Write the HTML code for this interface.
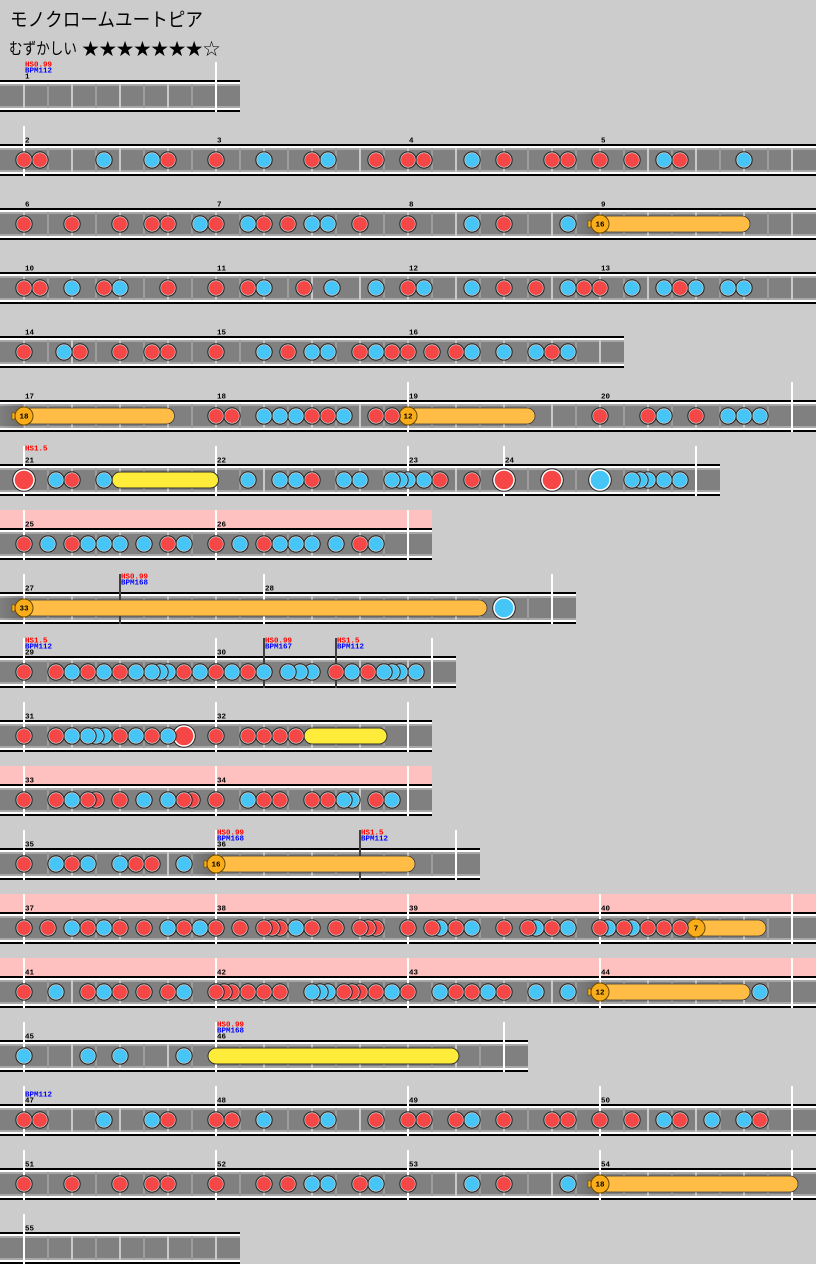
<!DOCTYPE html>
<html><head><meta charset="utf-8">
<style>
html,body{margin:0;padding:0;background:#cccccc}
svg{display:block}
.m{font:bold 7.5px "Liberation Mono",monospace;fill:#000}
.h{font:bold 7.5px "Liberation Mono",monospace;fill:#ff0000}
.p{font:bold 7.5px "Liberation Mono",monospace;fill:#0000ff}
.n{font:bold 7.5px "Liberation Mono",monospace;fill:#000;text-anchor:middle}
.bb{fill:#ffbd45;stroke:#3a3a3a;stroke-width:.8}
.yr{fill:#ffec3a;stroke:#333;stroke-width:1}
.t{fill:#fff}
.k{fill:#404040}
.pk{fill:#ffc0c0}
.st{font:21px "DejaVu Sans",sans-serif;text-anchor:middle;fill:#000}
</style></head>
<body>
<svg width="816" height="1264" viewBox="0 0 816 1264" xmlns="http://www.w3.org/2000/svg">
<defs>
<pattern id="g" patternUnits="userSpaceOnUse" x="23" y="0" width="48" height="1264"><rect width="2" height="1264" fill="#c8c8c8"/><rect x="24" width="2" height="1264" fill="#9c9c9c"/></pattern>
<linearGradient id="sh"><stop offset="0" stop-color="#000" stop-opacity="0"/><stop offset="1" stop-color="#000" stop-opacity=".2"/></linearGradient>
<g id="r"><circle r="8.7" fill="#262626"/><circle r="7.6" fill="#d0d0d0"/><circle r="6.9" fill="#f64646"/></g>
<g id="b"><circle r="8.7" fill="#262626"/><circle r="7.6" fill="#d0d0d0"/><circle r="6.9" fill="#46c6f6"/></g>
<g id="R"><circle r="11.8" fill="#262626"/><circle r="10.8" fill="#fff"/><circle r="9.3" fill="#f64646"/></g>
<g id="B"><circle r="11.8" fill="#262626"/><circle r="10.8" fill="#fff"/><circle r="9.3" fill="#46c6f6"/></g>
<g id="hd"><path d="M-12,-3.5 L-7,-2 L-7,2 L-12,3.5Z" fill="#f9ad1a" stroke="#6a4a00" stroke-width=".6"/><circle r="9" fill="#f9ad1a" stroke="#6a4a00" stroke-width="1"/></g>
</defs>
<rect width="816" height="1264" fill="#cccccc"/>

<!-- header -->
<text x="10" y="26" font-family="Liberation Sans, Noto Sans CJK JP, sans-serif" font-size="19" textLength="193" lengthAdjust="spacingAndGlyphs">モノクロームユートピア</text>
<text x="9" y="54" font-family="Liberation Sans, Noto Sans CJK JP, sans-serif" font-size="16" textLength="68" lengthAdjust="spacingAndGlyphs">むずかしい</text>
<text class="st" x="90.5" y="56">★</text><text class="st" x="107.8" y="56">★</text><text class="st" x="125.1" y="56">★</text><text class="st" x="142.4" y="56">★</text><text class="st" x="159.7" y="56">★</text><text class="st" x="177" y="56">★</text><text class="st" x="194.2" y="56">★</text><text class="st" x="211.5" y="56">☆</text>

<!-- pink bands -->
<rect class="pk" x="0" y="510" width="432" height="18"/>
<rect class="pk" x="0" y="766" width="432" height="18"/>
<rect class="pk" x="0" y="894" width="816" height="18"/>
<rect class="pk" x="0" y="958" width="816" height="18"/>

<!-- lanes -->
<g>
<rect y="80" width="240" height="32"/><rect y="82" width="240" height="28" fill="#fff"/><rect y="84" width="240" height="24" fill="#a8a8a8"/><rect y="86" width="240" height="20" fill="#808080"/><rect x="23" y="84" width="216" height="24" fill="url(#g)"/>
<rect y="144" width="816" height="32"/><rect y="146" width="816" height="28" fill="#fff"/><rect y="148" width="816" height="24" fill="#a8a8a8"/><rect y="150" width="816" height="20" fill="#808080"/><rect x="23" y="148" width="792" height="24" fill="url(#g)"/>
<rect y="208" width="816" height="32"/><rect y="210" width="816" height="28" fill="#fff"/><rect y="212" width="816" height="24" fill="#a8a8a8"/><rect y="214" width="816" height="20" fill="#808080"/><rect x="23" y="212" width="792" height="24" fill="url(#g)"/>
<rect y="272" width="816" height="32"/><rect y="274" width="816" height="28" fill="#fff"/><rect y="276" width="816" height="24" fill="#a8a8a8"/><rect y="278" width="816" height="20" fill="#808080"/><rect x="23" y="276" width="792" height="24" fill="url(#g)"/>
<rect y="336" width="624" height="32"/><rect y="338" width="624" height="28" fill="#fff"/><rect y="340" width="624" height="24" fill="#a8a8a8"/><rect y="342" width="624" height="20" fill="#808080"/><rect x="23" y="340" width="600" height="24" fill="url(#g)"/>
<rect y="400" width="816" height="32"/><rect y="402" width="816" height="28" fill="#fff"/><rect y="404" width="816" height="24" fill="#a8a8a8"/><rect y="406" width="816" height="20" fill="#808080"/><rect x="23" y="404" width="792" height="24" fill="url(#g)"/>
<rect y="464" width="720" height="32"/><rect y="466" width="720" height="28" fill="#fff"/><rect y="468" width="720" height="24" fill="#a8a8a8"/><rect y="470" width="720" height="20" fill="#808080"/><rect x="23" y="468" width="696" height="24" fill="url(#g)"/>
<rect y="528" width="432" height="32"/><rect y="530" width="432" height="28" fill="#fff"/><rect y="532" width="432" height="24" fill="#a8a8a8"/><rect y="534" width="432" height="20" fill="#808080"/><rect x="23" y="532" width="408" height="24" fill="url(#g)"/>
<rect y="592" width="576" height="32"/><rect y="594" width="576" height="28" fill="#fff"/><rect y="596" width="576" height="24" fill="#a8a8a8"/><rect y="598" width="576" height="20" fill="#808080"/><rect x="23" y="596" width="552" height="24" fill="url(#g)"/>
<rect y="656" width="456" height="32"/><rect y="658" width="456" height="28" fill="#fff"/><rect y="660" width="456" height="24" fill="#a8a8a8"/><rect y="662" width="456" height="20" fill="#808080"/><rect x="23" y="660" width="432" height="24" fill="url(#g)"/>
<rect y="720" width="432" height="32"/><rect y="722" width="432" height="28" fill="#fff"/><rect y="724" width="432" height="24" fill="#a8a8a8"/><rect y="726" width="432" height="20" fill="#808080"/><rect x="23" y="724" width="408" height="24" fill="url(#g)"/>
<rect y="784" width="432" height="32"/><rect y="786" width="432" height="28" fill="#fff"/><rect y="788" width="432" height="24" fill="#a8a8a8"/><rect y="790" width="432" height="20" fill="#808080"/><rect x="23" y="788" width="408" height="24" fill="url(#g)"/>
<rect y="848" width="480" height="32"/><rect y="850" width="480" height="28" fill="#fff"/><rect y="852" width="480" height="24" fill="#a8a8a8"/><rect y="854" width="480" height="20" fill="#808080"/><rect x="23" y="852" width="456" height="24" fill="url(#g)"/>
<rect y="912" width="816" height="32"/><rect y="914" width="816" height="28" fill="#fff"/><rect y="916" width="816" height="24" fill="#a8a8a8"/><rect y="918" width="816" height="20" fill="#808080"/><rect x="23" y="916" width="792" height="24" fill="url(#g)"/>
<rect y="976" width="816" height="32"/><rect y="978" width="816" height="28" fill="#fff"/><rect y="980" width="816" height="24" fill="#a8a8a8"/><rect y="982" width="816" height="20" fill="#808080"/><rect x="23" y="980" width="792" height="24" fill="url(#g)"/>
<rect y="1040" width="528" height="32"/><rect y="1042" width="528" height="28" fill="#fff"/><rect y="1044" width="528" height="24" fill="#a8a8a8"/><rect y="1046" width="528" height="20" fill="#808080"/><rect x="23" y="1044" width="504" height="24" fill="url(#g)"/>
<rect y="1104" width="816" height="32"/><rect y="1106" width="816" height="28" fill="#fff"/><rect y="1108" width="816" height="24" fill="#a8a8a8"/><rect y="1110" width="816" height="20" fill="#808080"/><rect x="23" y="1108" width="792" height="24" fill="url(#g)"/>
<rect y="1168" width="816" height="32"/><rect y="1170" width="816" height="28" fill="#fff"/><rect y="1172" width="816" height="24" fill="#a8a8a8"/><rect y="1174" width="816" height="20" fill="#808080"/><rect x="23" y="1172" width="792" height="24" fill="url(#g)"/>
<rect y="1232" width="240" height="32"/><rect y="1234" width="240" height="28" fill="#fff"/><rect y="1236" width="240" height="24" fill="#a8a8a8"/><rect y="1238" width="240" height="20" fill="#808080"/><rect x="23" y="1236" width="216" height="24" fill="url(#g)"/>
</g>

<!-- tall barlines -->
<g class="t">
<rect x="215" y="62" width="2" height="50"/>
<rect x="23" y="126" width="2" height="50"/>
<rect x="407" y="382" width="2" height="50"/><rect x="791" y="382" width="2" height="50"/>
<rect x="23" y="446" width="2" height="50"/><rect x="215" y="446" width="2" height="50"/><rect x="407" y="446" width="2" height="50"/><rect x="503" y="446" width="2" height="50"/><rect x="695" y="446" width="2" height="50"/>
<rect x="23" y="510" width="2" height="50"/><rect x="215" y="510" width="2" height="50"/><rect x="407" y="510" width="2" height="50"/>
<rect x="23" y="574" width="2" height="50"/><rect x="263" y="574" width="2" height="50"/><rect x="551" y="574" width="2" height="50"/>
<rect x="23" y="638" width="2" height="50"/><rect x="215" y="638" width="2" height="50"/><rect x="431" y="638" width="2" height="50"/>
<rect x="23" y="702" width="2" height="50"/><rect x="215" y="702" width="2" height="50"/><rect x="407" y="702" width="2" height="50"/>
<rect x="23" y="766" width="2" height="50"/><rect x="215" y="766" width="2" height="50"/><rect x="407" y="766" width="2" height="50"/>
<rect x="23" y="830" width="2" height="50"/><rect x="215" y="830" width="2" height="50"/><rect x="455" y="830" width="2" height="50"/>
<rect x="23" y="894" width="2" height="50"/><rect x="215" y="894" width="2" height="50"/><rect x="407" y="894" width="2" height="50"/><rect x="599" y="894" width="2" height="50"/><rect x="791" y="894" width="2" height="50"/>
<rect x="23" y="958" width="2" height="50"/><rect x="215" y="958" width="2" height="50"/><rect x="407" y="958" width="2" height="50"/><rect x="599" y="958" width="2" height="50"/><rect x="791" y="958" width="2" height="50"/>
<rect x="23" y="1022" width="2" height="50"/><rect x="215" y="1022" width="2" height="50"/><rect x="503" y="1022" width="2" height="50"/>
<rect x="23" y="1086" width="2" height="50"/><rect x="215" y="1086" width="2" height="50"/><rect x="407" y="1086" width="2" height="50"/><rect x="599" y="1086" width="2" height="50"/><rect x="791" y="1086" width="2" height="50"/>
<rect x="23" y="1150" width="2" height="50"/><rect x="215" y="1150" width="2" height="50"/><rect x="407" y="1150" width="2" height="50"/><rect x="599" y="1150" width="2" height="50"/><rect x="791" y="1150" width="2" height="50"/>
<rect x="23" y="1214" width="2" height="50"/>
</g>
<!-- dark markers -->
<g class="k">
<rect x="119" y="574" width="2" height="50"/>
<rect x="263" y="638" width="2" height="50"/><rect x="335" y="638" width="2" height="50"/>
<rect x="359" y="830" width="2" height="50"/>
</g>

<!-- labels -->
<text class="h" x="25" y="66.5">HS0.99</text><text class="p" x="25" y="72.5">BPM112</text>
<text class="h" x="25" y="450.5">HS1.5</text>
<text class="h" x="121" y="578.5">HS0.99</text><text class="p" x="121" y="584.5">BPM168</text>
<text class="h" x="25" y="642.5">HS1.5</text><text class="p" x="25" y="648.5">BPM112</text>
<text class="h" x="265" y="642.5">HS0.99</text><text class="p" x="265" y="648.5">BPM167</text>
<text class="h" x="337" y="642.5">HS1.5</text><text class="p" x="337" y="648.5">BPM112</text>
<text class="h" x="217" y="834.5">HS0.99</text><text class="p" x="217" y="840.5">BPM168</text>
<text class="h" x="361" y="834.5">HS1.5</text><text class="p" x="361" y="840.5">BPM112</text>
<text class="h" x="217" y="1026.5">HS0.99</text><text class="p" x="217" y="1032.5">BPM168</text>
<text class="p" x="25" y="1096.5">BPM112</text>

<!-- measure numbers -->
<g class="m">
<text x="25" y="78.5">1</text>
<text x="25" y="142.5">2</text><text x="217" y="142.5">3</text><text x="409" y="142.5">4</text><text x="601" y="142.5">5</text>
<text x="25" y="206.5">6</text><text x="217" y="206.5">7</text><text x="409" y="206.5">8</text><text x="601" y="206.5">9</text>
<text x="25" y="270.5">10</text><text x="217" y="270.5">11</text><text x="409" y="270.5">12</text><text x="601" y="270.5">13</text>
<text x="25" y="334.5">14</text><text x="217" y="334.5">15</text><text x="409" y="334.5">16</text>
<text x="25" y="398.5">17</text><text x="217" y="398.5">18</text><text x="409" y="398.5">19</text><text x="601" y="398.5">20</text>
<text x="25" y="462.5">21</text><text x="217" y="462.5">22</text><text x="409" y="462.5">23</text><text x="505" y="462.5">24</text>
<text x="25" y="526.5">25</text><text x="217" y="526.5">26</text>
<text x="25" y="590.5">27</text><text x="265" y="590.5">28</text>
<text x="25" y="654.5">29</text><text x="217" y="654.5">30</text>
<text x="25" y="718.5">31</text><text x="217" y="718.5">32</text>
<text x="25" y="782.5">33</text><text x="217" y="782.5">34</text>
<text x="25" y="846.5">35</text><text x="217" y="846.5">36</text>
<text x="25" y="910.5">37</text><text x="217" y="910.5">38</text><text x="409" y="910.5">39</text><text x="601" y="910.5">40</text>
<text x="25" y="974.5">41</text><text x="217" y="974.5">42</text><text x="409" y="974.5">43</text><text x="601" y="974.5">44</text>
<text x="25" y="1038.5">45</text><text x="217" y="1038.5">46</text>
<text x="25" y="1102.5">47</text><text x="217" y="1102.5">48</text><text x="409" y="1102.5">49</text><text x="601" y="1102.5">50</text>
<text x="25" y="1166.5">51</text><text x="217" y="1166.5">52</text><text x="409" y="1166.5">53</text><text x="601" y="1166.5">54</text>
<text x="25" y="1230.5">55</text>
</g>

<!-- row 2 -->
<g transform="translate(0,160)">
<use href="#b" x="744"/><use href="#r" x="680"/><use href="#b" x="664"/><use href="#r" x="632"/><use href="#r" x="600"/><use href="#r" x="568"/><use href="#r" x="552"/><use href="#r" x="504"/><use href="#b" x="472"/><use href="#r" x="424"/><use href="#r" x="408"/><use href="#r" x="376"/><use href="#b" x="328"/><use href="#r" x="312"/><use href="#b" x="264"/><use href="#r" x="216"/><use href="#r" x="168"/><use href="#b" x="152"/><use href="#b" x="104"/><use href="#r" x="40"/><use href="#r" x="24"/>
</g>
<!-- row 3 -->
<g transform="translate(0,224)">
<rect x="576" y="-12" width="24" height="24" fill="url(#sh)"/><rect x="600" y="-8" width="150" height="16" rx="8" class="bb"/><use href="#hd" x="600"/><text class="n" x="600" y="2.7">16</text>
<use href="#b" x="568"/><use href="#r" x="504"/><use href="#b" x="472"/><use href="#r" x="408"/><use href="#r" x="360"/><use href="#b" x="328"/><use href="#b" x="312"/><use href="#r" x="288"/><use href="#r" x="264"/><use href="#b" x="248"/><use href="#r" x="216"/><use href="#b" x="200"/><use href="#r" x="168"/><use href="#r" x="152"/><use href="#r" x="120"/><use href="#r" x="72"/><use href="#r" x="24"/>
</g>
<!-- row 4 -->
<g transform="translate(0,288)">
<use href="#b" x="744"/><use href="#b" x="728"/><use href="#b" x="696"/><use href="#r" x="680"/><use href="#b" x="664"/><use href="#b" x="632"/><use href="#r" x="600"/><use href="#r" x="584"/><use href="#b" x="568"/><use href="#r" x="536"/><use href="#r" x="504"/><use href="#b" x="472"/><use href="#b" x="424"/><use href="#r" x="408"/><use href="#b" x="376"/><use href="#b" x="332"/><use href="#r" x="304"/><use href="#b" x="264"/><use href="#r" x="248"/><use href="#r" x="216"/><use href="#r" x="168"/><use href="#b" x="120"/><use href="#r" x="104"/><use href="#b" x="72"/><use href="#r" x="40"/><use href="#r" x="24"/>
</g>
<!-- row 5 -->
<g transform="translate(0,352)">
<use href="#b" x="568"/><use href="#r" x="552"/><use href="#b" x="536"/><use href="#b" x="504"/><use href="#b" x="472"/><use href="#r" x="456"/><use href="#r" x="432"/><use href="#r" x="408"/><use href="#r" x="392"/><use href="#b" x="376"/><use href="#r" x="360"/><use href="#b" x="328"/><use href="#b" x="312"/><use href="#r" x="288"/><use href="#b" x="264"/><use href="#r" x="216"/><use href="#r" x="168"/><use href="#r" x="152"/><use href="#r" x="120"/><use href="#r" x="80"/><use href="#b" x="64"/><use href="#r" x="24"/>
</g>
<!-- row 6 -->
<g transform="translate(0,416)">
<use href="#b" x="760"/><use href="#b" x="744"/><use href="#b" x="728"/><use href="#r" x="696"/><use href="#b" x="664"/><use href="#r" x="648"/><use href="#r" x="600"/>
<rect x="384" y="-12" width="24" height="24" fill="url(#sh)"/><rect x="408" y="-8" width="127" height="16" rx="8" class="bb"/><use href="#hd" x="408"/><text class="n" x="408" y="2.7">12</text>
<use href="#r" x="392"/><use href="#r" x="376"/><use href="#b" x="344"/><use href="#r" x="328"/><use href="#r" x="312"/><use href="#b" x="296"/><use href="#b" x="280"/><use href="#b" x="264"/><use href="#r" x="232"/><use href="#r" x="216"/>
<rect x="0" y="-12" width="24" height="24" fill="url(#sh)"/><rect x="24" y="-8" width="150.5" height="16" rx="8" class="bb"/><use href="#hd" x="24"/><text class="n" x="24" y="2.7">18</text>
</g>
<!-- row 7 -->
<g transform="translate(0,480)">
<use href="#b" x="680"/><use href="#b" x="664"/><use href="#b" x="648"/><use href="#b" x="640"/><use href="#b" x="632"/><use href="#B" x="600"/><use href="#R" x="552"/><use href="#R" x="504"/><use href="#r" x="472"/><use href="#r" x="440"/><use href="#b" x="424"/><use href="#b" x="408"/><use href="#b" x="400"/><use href="#b" x="392"/><use href="#b" x="360"/><use href="#b" x="344"/><use href="#r" x="312"/><use href="#b" x="296"/><use href="#b" x="280"/><use href="#b" x="248"/>
<rect x="112" y="-8" width="106.5" height="16" rx="8" class="yr"/>
<use href="#b" x="104"/><use href="#r" x="72"/><use href="#b" x="56"/><use href="#R" x="24"/>
</g>
<!-- row 8 -->
<g transform="translate(0,544)">
<use href="#b" x="376"/><use href="#r" x="360"/><use href="#b" x="336"/><use href="#b" x="312"/><use href="#b" x="296"/><use href="#b" x="280"/><use href="#r" x="264"/><use href="#b" x="240"/><use href="#r" x="216"/><use href="#b" x="184"/><use href="#r" x="168"/><use href="#b" x="144"/><use href="#b" x="120"/><use href="#b" x="104"/><use href="#b" x="88"/><use href="#r" x="72"/><use href="#b" x="48"/><use href="#r" x="24"/>
</g>
<!-- row 9 -->
<g transform="translate(0,608)">
<use href="#B" x="504"/>
<rect x="0" y="-12" width="24" height="24" fill="url(#sh)"/><rect x="24" y="-8" width="463" height="16" rx="8" class="bb"/><use href="#hd" x="24"/><text class="n" x="24" y="2.7">33</text>
</g>
<!-- row 10 -->
<g transform="translate(0,672)">
<use href="#b" x="416"/><use href="#b" x="400"/><use href="#b" x="392"/><use href="#b" x="384"/><use href="#r" x="368"/><use href="#b" x="352"/><use href="#r" x="336"/><use href="#b" x="312"/><use href="#b" x="300"/><use href="#b" x="288"/><use href="#b" x="264"/><use href="#r" x="248"/><use href="#b" x="232"/><use href="#r" x="216"/><use href="#b" x="200"/><use href="#r" x="184"/><use href="#b" x="168"/><use href="#b" x="160"/><use href="#b" x="152"/><use href="#b" x="136"/><use href="#r" x="120"/><use href="#b" x="104"/><use href="#r" x="88"/><use href="#b" x="72"/><use href="#r" x="56"/><use href="#r" x="24"/>
</g>
<!-- row 11 -->
<g transform="translate(0,736)">
<rect x="304" y="-8" width="83" height="16" rx="8" class="yr"/>
<use href="#r" x="296"/><use href="#r" x="280"/><use href="#r" x="264"/><use href="#r" x="248"/><use href="#r" x="216"/><use href="#R" x="184"/><use href="#b" x="168"/><use href="#r" x="152"/><use href="#b" x="136"/><use href="#r" x="120"/><use href="#b" x="104"/><use href="#b" x="96"/><use href="#b" x="88"/><use href="#b" x="72"/><use href="#r" x="56"/><use href="#r" x="24"/>
</g>
<!-- row 12 -->
<g transform="translate(0,800)">
<use href="#b" x="392"/><use href="#r" x="376"/><use href="#b" x="352"/><use href="#b" x="344"/><use href="#r" x="328"/><use href="#r" x="312"/><use href="#r" x="280"/><use href="#r" x="264"/><use href="#b" x="248"/><use href="#r" x="216"/><use href="#r" x="192"/><use href="#r" x="184"/><use href="#b" x="168"/><use href="#b" x="144"/><use href="#r" x="120"/><use href="#r" x="96"/><use href="#r" x="88"/><use href="#b" x="72"/><use href="#r" x="56"/><use href="#r" x="24"/>
</g>
<!-- row 13 -->
<g transform="translate(0,864)">
<rect x="192" y="-12" width="24" height="24" fill="url(#sh)"/><rect x="216" y="-8" width="199" height="16" rx="8" class="bb"/><use href="#hd" x="216"/><text class="n" x="216" y="2.7">16</text>
<use href="#b" x="184"/><use href="#r" x="152"/><use href="#r" x="136"/><use href="#b" x="120"/><use href="#b" x="88"/><use href="#r" x="72"/><use href="#b" x="56"/><use href="#r" x="24"/>
</g>
<!-- row 14 -->
<g transform="translate(0,928)">
<rect x="672" y="-12" width="24" height="24" fill="url(#sh)"/><rect x="696" y="-8" width="70" height="16" rx="8" class="bb"/><use href="#hd" x="696"/><text class="n" x="696" y="2.7">7</text>
<use href="#r" x="680"/><use href="#r" x="664"/><use href="#r" x="648"/><use href="#b" x="632"/><use href="#r" x="624"/><use href="#b" x="608"/><use href="#r" x="600"/><use href="#b" x="568"/><use href="#r" x="552"/><use href="#b" x="536"/><use href="#r" x="528"/><use href="#r" x="504"/><use href="#b" x="472"/><use href="#r" x="456"/><use href="#b" x="440"/><use href="#r" x="432"/><use href="#r" x="408"/><use href="#r" x="376"/><use href="#r" x="368"/><use href="#r" x="360"/><use href="#r" x="336"/><use href="#r" x="312"/><use href="#b" x="296"/><use href="#r" x="280"/><use href="#r" x="272"/><use href="#r" x="264"/><use href="#r" x="240"/><use href="#r" x="216"/><use href="#b" x="200"/><use href="#r" x="184"/><use href="#b" x="168"/><use href="#r" x="144"/><use href="#r" x="120"/><use href="#b" x="104"/><use href="#r" x="88"/><use href="#b" x="72"/><use href="#r" x="48"/><use href="#r" x="24"/>
</g>
<!-- row 15 -->
<g transform="translate(0,992)">
<use href="#b" x="760"/>
<rect x="576" y="-12" width="24" height="24" fill="url(#sh)"/><rect x="600" y="-8" width="150" height="16" rx="8" class="bb"/><use href="#hd" x="600"/><text class="n" x="600" y="2.7">12</text>
<use href="#b" x="568"/><use href="#b" x="536"/><use href="#r" x="504"/><use href="#b" x="488"/><use href="#r" x="472"/><use href="#r" x="456"/><use href="#b" x="440"/><use href="#r" x="408"/><use href="#b" x="392"/><use href="#r" x="376"/><use href="#r" x="360"/><use href="#r" x="352"/><use href="#r" x="344"/><use href="#b" x="328"/><use href="#b" x="320"/><use href="#b" x="312"/><use href="#r" x="280"/><use href="#r" x="264"/><use href="#r" x="248"/><use href="#r" x="232"/><use href="#r" x="224"/><use href="#r" x="216"/><use href="#b" x="184"/><use href="#r" x="168"/><use href="#r" x="144"/><use href="#r" x="120"/><use href="#b" x="104"/><use href="#r" x="88"/><use href="#b" x="56"/><use href="#r" x="24"/>
</g>
<!-- row 16 -->
<g transform="translate(0,1056)">
<rect x="208" y="-8" width="251" height="16" rx="8" class="yr"/>
<use href="#b" x="184"/><use href="#b" x="120"/><use href="#b" x="88"/><use href="#b" x="24"/>
</g>
<!-- row 17 -->
<g transform="translate(0,1120)">
<use href="#r" x="760"/><use href="#b" x="744"/><use href="#b" x="712"/><use href="#r" x="680"/><use href="#b" x="664"/><use href="#r" x="632"/><use href="#r" x="600"/><use href="#r" x="568"/><use href="#r" x="552"/><use href="#r" x="504"/><use href="#b" x="472"/><use href="#r" x="456"/><use href="#r" x="424"/><use href="#r" x="408"/><use href="#r" x="376"/><use href="#b" x="328"/><use href="#r" x="312"/><use href="#b" x="264"/><use href="#r" x="232"/><use href="#r" x="216"/><use href="#r" x="168"/><use href="#b" x="152"/><use href="#b" x="104"/><use href="#r" x="40"/><use href="#r" x="24"/>
</g>
<!-- row 18 -->
<g transform="translate(0,1184)">
<rect x="576" y="-12" width="24" height="24" fill="url(#sh)"/><rect x="600" y="-8" width="198" height="16" rx="8" class="bb"/><use href="#hd" x="600"/><text class="n" x="600" y="2.7">18</text>
<use href="#b" x="568"/><use href="#r" x="504"/><use href="#b" x="472"/><use href="#r" x="408"/><use href="#b" x="376"/><use href="#r" x="360"/><use href="#b" x="328"/><use href="#b" x="312"/><use href="#r" x="288"/><use href="#r" x="264"/><use href="#r" x="216"/><use href="#r" x="168"/><use href="#r" x="152"/><use href="#r" x="120"/><use href="#r" x="72"/><use href="#r" x="24"/>
</g>
</svg>
</body></html>
